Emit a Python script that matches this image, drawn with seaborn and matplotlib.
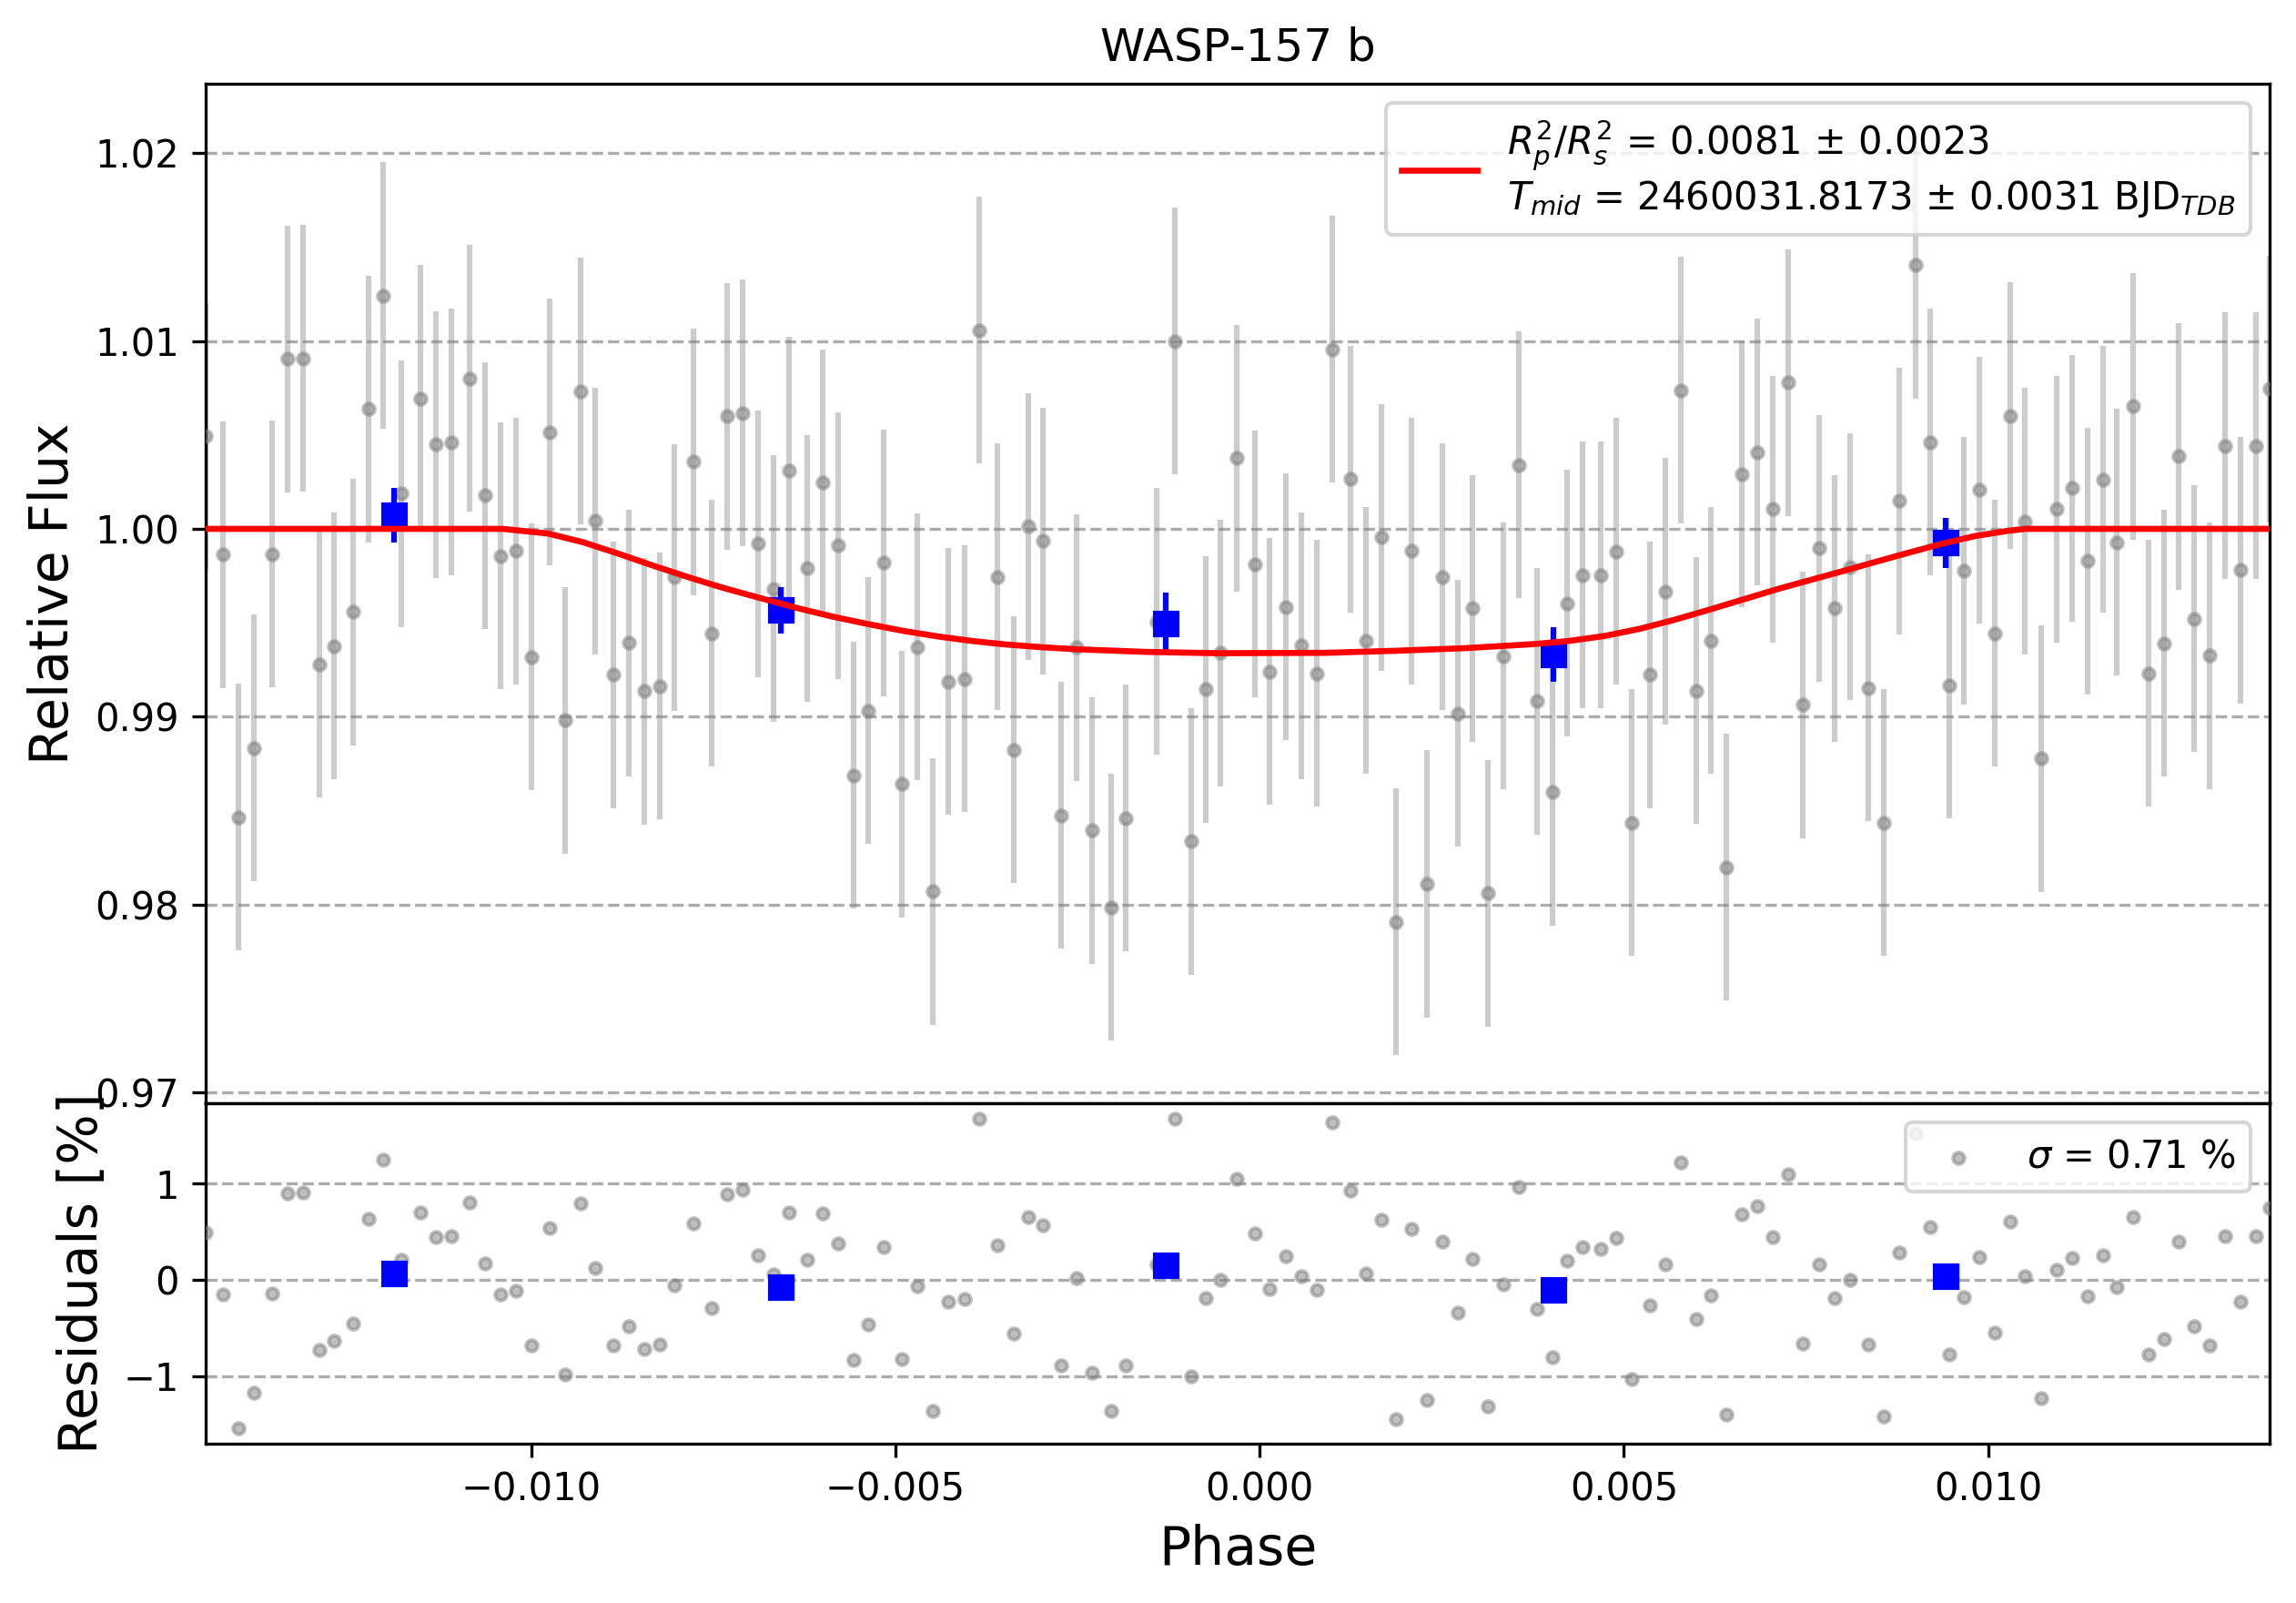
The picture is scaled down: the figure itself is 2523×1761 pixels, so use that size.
import numpy as np
import matplotlib
matplotlib.use("Agg")
import matplotlib.pyplot as plt
import seaborn as sns

# unbinned phase-folded light curve
phase = [
    -0.014467, -0.014228, -0.014013, -0.013802, -0.013553, -0.013338, -0.013127, -0.012911, -0.012711, -0.012447,
    -0.012237, -0.012031, -0.011787, -0.011524, -0.011313, -0.011098, -0.010849, -0.010639, -0.010423, -0.010212,
    -0.010002, -0.009749, -0.009538, -0.009327, -0.009126, -0.008872, -0.008662, -0.008452, -0.008236, -0.008035,
    -0.007772, -0.007523, -0.007308, -0.007102, -0.006884, -0.006678, -0.006457, -0.006209, -0.005999, -0.005788,
    -0.005575, -0.005372, -0.005161, -0.004907, -0.004697, -0.004482, -0.004271, -0.004055, -0.003855, -0.003596,
    -0.003381, -0.003170, -0.002970, -0.002721, -0.002510, -0.002295, -0.002041, -0.001835, -0.001414, -0.001160,
    -0.000945, -0.000744, -0.000534, -0.000318, -0.000069, 0.000141, 0.000359, 0.000570, 0.000780, 0.000996,
    0.001244, 0.001461, 0.001671, 0.001872, 0.002082, 0.002293, 0.002508, 0.002718, 0.002920, 0.003135,
    0.003345, 0.003561, 0.003810, 0.004021, 0.004222, 0.004437, 0.004685, 0.004896, 0.005107, 0.005361,
    0.005571, 0.005781, 0.005997, 0.006198, 0.006408, 0.006624, 0.006834, 0.007045, 0.007255, 0.007460,
    0.007683, 0.007894, 0.008108, 0.008359, 0.008570, 0.008785, 0.008999, 0.009210, 0.009461, 0.009671,
    0.009873, 0.010088, 0.010298, 0.010508, 0.010723, 0.010934, 0.011148, 0.011363, 0.011574, 0.011770,
    0.011985, 0.012200, 0.012410, 0.012611, 0.012825, 0.013035, 0.013250, 0.013460, 0.013675, 0.013863,
]

flux = [
    1.00493, 0.99862, 0.98465, 0.98833, 0.99865, 1.00904, 1.00908, 0.99280, 0.99376, 0.99557,
    1.00638, 1.01241, 1.00188, 1.00695, 1.00450, 1.00461, 1.00801, 1.00177, 0.99855, 0.99883,
    0.99319, 1.00514, 0.98982, 1.00734, 1.00043, 0.99223, 0.99394, 0.99135, 0.99163, 0.99741,
    1.00358, 0.99443, 1.00599, 1.00617, 0.99922, 0.99681, 1.00312, 0.99791, 1.00245, 0.99911,
    0.98688, 0.99032, 0.99819, 0.98642, 0.99372, 0.98071, 0.99188, 0.99202, 1.01057, 0.99745,
    0.98823, 1.00014, 0.99936, 0.98475, 0.99369, 0.98394, 0.97986, 0.98461, 0.99507, 1.01000,
    0.98337, 0.99145, 0.99340, 1.00376, 0.99812, 0.99241, 0.99585, 0.99379, 0.99230, 1.00957,
    1.00266, 0.99404, 0.99954, 0.97908, 0.99883, 0.98110, 0.99745, 0.99018, 0.99578, 0.98060,
    0.99323, 1.00340, 0.99082, 0.98599, 0.99603, 0.99755, 0.99755, 0.99879, 0.98436, 0.99223,
    0.99667, 1.00738, 0.99138, 0.99404, 0.98199, 1.00291, 1.00408, 1.00106, 1.00780, 0.99064,
    0.99897, 0.99578, 0.99798, 0.99152, 0.98436, 1.00149, 1.01404, 1.00461, 0.99167, 0.99777,
    1.00206, 0.99443, 1.00603, 1.00039, 0.98777, 1.00106, 1.00216, 0.99830, 1.00262, 0.99929,
    1.00652, 0.99230, 0.99390, 1.00387, 0.99521, 0.99326, 1.00443, 0.99780, 1.00443, 1.00745,
]
flux_err = 0.0071

# residuals in percent
resid = [
    0.493, -0.152, -1.541, -1.175, -0.142, 0.900, 0.909, -0.726, -0.635, -0.455,
    0.635, 1.250, 0.202, 0.701, 0.445, 0.455, 0.805, 0.171, -0.148, -0.114,
    -0.679, 0.540, -0.982, 0.796, 0.123, -0.679, -0.480, -0.717, -0.673, -0.054,
    0.587, -0.294, 0.890, 0.938, 0.256, 0.060, 0.701, 0.208, 0.692, 0.379,
    -0.830, -0.464, 0.341, -0.824, -0.069, -1.361, -0.227, -0.199, 1.667, 0.360,
    -0.559, 0.647, 0.568, -0.890, 0.013, -0.966, -1.361, -0.890, 0.161, 1.667,
    -1.004, -0.189, 0.000, 1.051, 0.477, -0.095, 0.246, 0.041, -0.104, 1.629,
    0.928, 0.066, 0.619, -1.449, 0.530, -1.250, 0.392, -0.341, 0.218, -1.314,
    -0.047, 0.966, -0.303, -0.805, 0.199, 0.341, 0.322, 0.436, -1.029, -0.265,
    0.161, 1.222, -0.407, -0.158, -1.399, 0.679, 0.764, 0.445, 1.093, -0.663,
    0.161, -0.189, 0.000, -0.669, -1.421, 0.278, 1.519, 0.543, -0.774, -0.180,
    0.237, -0.549, 0.606, 0.038, -1.228, 0.107, 0.221, -0.171, 0.256, -0.073,
    0.654, -0.774, -0.613, 0.392, -0.483, -0.679, 0.452, -0.224, 0.452, 0.748,
]

# binned points
bin_phase = [-0.011887, -0.006573, -0.001284, 0.004030, 0.009420]
bin_flux = [1.00074, 0.99567, 0.99496, 0.99330, 0.99926]
bin_err = [0.00145, 0.00124, 0.00163, 0.00145, 0.00133]
bin_resid = [0.066, -0.076, 0.152, -0.104, 0.038]

# best-fit transit model
model_phase = [
    -0.014467, -0.010389, -0.009768, -0.009289, -0.008811, -0.008332, -0.007853, -0.007375,
    -0.006821, -0.006344, -0.005865, -0.005386, -0.004908, -0.004429, -0.003950, -0.003471,
    -0.002994, -0.002515, -0.001558, -0.000600, 0.000909, 0.001867, 0.002824, 0.003781,
    0.004259, 0.004738, 0.005217, 0.005695, 0.006174, 0.006652, 0.007130, 0.007994,
    0.008451, 0.008908, 0.009365, 0.009822, 0.010279, 0.010508, 0.013863,
]
model_flux = [
    1.0, 1.0, 0.99975, 0.99929, 0.99869, 0.99805, 0.99744, 0.99687,
    0.99628, 0.99578, 0.99533, 0.99494, 0.99458, 0.99428, 0.99403, 0.99384,
    0.99370, 0.99359, 0.99345, 0.99338, 0.99340, 0.99351, 0.99365, 0.99387,
    0.99404, 0.99430, 0.99468, 0.99516, 0.99570, 0.99626, 0.99682, 0.99774,
    0.99824, 0.99873, 0.99921, 0.99962, 0.99990, 1.0, 1.0,
]

label_fit = ("$R_p^2/R_s^2$ = 0.0081 ± 0.0023\n"
             "$T_{mid}$ = 2460031.8173 ± 0.0031 BJD$_{TDB}$")
label_res = r"$\sigma$ = 0.71 %"

fig, (ax, axr) = plt.subplots(2, 1, sharex=True, figsize=(2523 / 300, 1761 / 300), dpi=300,
                              gridspec_kw={"height_ratios": [3, 1], "hspace": 0})
fig.subplots_adjust(left=0.0896, right=0.9885, top=0.9478, bottom=0.0994)

# top panel
ax.errorbar(phase, flux, yerr=flux_err, fmt="none", ecolor="gray", alpha=0.4,
            elinewidth=1.5, zorder=2)
sns.scatterplot(x=phase, y=flux, ax=ax, color="gray", alpha=0.5, s=9,
                edgecolor="gray", linewidth=1, zorder=3)
ax.errorbar(bin_phase, bin_flux, yerr=bin_err, fmt="s", color="blue", ms=6, zorder=4)
sns.lineplot(x=model_phase, y=model_flux, ax=ax, color="red", lw=1.6,
             label=label_fit, zorder=5)
ax.legend(loc="upper right")
ax.set_ylim(0.9694, 1.0237)
ax.set_ylabel("Relative Flux", fontsize=14)
ax.set_title("WASP-157 b")
ax.grid(axis="y", ls="--", color="gray", alpha=0.65)

# residual panel
sns.scatterplot(x=phase, y=resid, ax=axr, color="gray", alpha=0.5, s=9,
                edgecolor="gray", linewidth=1, zorder=3, label=label_res)
axr.plot(bin_phase, bin_resid, "s", color="blue", ms=6, zorder=4)
axr.legend(loc="upper right")
axr.set_ylabel("Residuals [%]", fontsize=14)
axr.set_xlabel("Phase", fontsize=14)
axr.grid(axis="y", ls="--", color="gray", alpha=0.65)
axr.set_xlim(phase[0], phase[-1])

fig.savefig("out.png", dpi=300)
